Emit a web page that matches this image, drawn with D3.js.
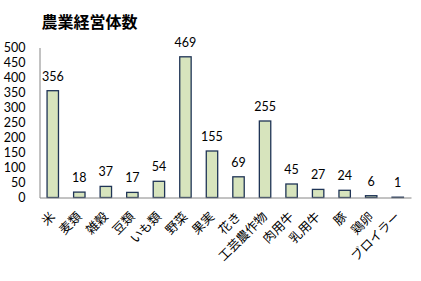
<!DOCTYPE html>
<html>
<head>
<meta charset="utf-8">
<script src="https://cdn.jsdelivr.net/npm/d3@7"></script>
<style>
  html, body { margin: 0; padding: 0; background: #ffffff; }
  svg { display: block; }
</style>
</head>
<body>
<svg id="chart" width="421" height="281"></svg>
<script>
// 品目別の農業経営体数
const categories = ["米", "麦類", "雑穀", "豆類", "いも類", "野菜", "果実", "花き",
  "工芸農作物", "肉用牛", "乳用牛", "豚", "鶏卵", "ブロイラー"];
const counts = [356, 18, 37, 17, 54, 469, 155, 69, 255, 45, 27, 24, 6, 1];
const yTicks = [0, 50, 100, 150, 200, 250, 300, 350, 400, 450, 500];
const title = "農業経営体数";

const svg = d3.select("#chart");
const plot = { left: 39.5, right: 411, top: 47.5, bottom: 197.5 };
const numFont = "Lato, 'Open Sans', sans-serif";
const jpFont = "'Noto Sans CJK JP', sans-serif";

const x = d3.scaleBand().domain(categories).range([plot.left, plot.right]).paddingInner(0.57).paddingOuter(0.285);
const y = d3.scaleLinear().domain([0, 500]).range([plot.bottom, plot.top]);

// title
svg.append("text")
  .attr("x", 89.5).attr("y", 28)
  .attr("text-anchor", "middle")
  .attr("font-family", jpFont)
  .attr("font-weight", "bold")
  .attr("font-size", 16)
  .attr("fill", "#000")
  .text(title);

// y axis
const yAxis = svg.append("g")
  .attr("transform", `translate(${plot.left},0)`)
  .call(d3.axisLeft(y).tickValues(yTicks).tickSize(0).tickPadding(14).tickFormat(d3.format("d")));
yAxis.select(".domain").attr("stroke", "#868686").attr("stroke-width", 1);
yAxis.selectAll("text")
  .attr("font-family", numFont).attr("font-size", 12.5).attr("fill", "#000");

// bars
svg.append("g").selectAll("rect")
  .data(counts)
  .join("rect")
  .attr("x", (d, i) => x(categories[i]))
  .attr("y", d => y(d))
  .attr("width", x.bandwidth())
  .attr("height", d => y(0) - y(d))
  .attr("fill", "#d7e4bd")
  .attr("stroke", "#1f3456")
  .attr("stroke-width", 1.3);

// x axis
const xAxis = svg.append("g")
  .attr("transform", `translate(0,${plot.bottom})`)
  .call(d3.axisBottom(x).tickSize(0).tickFormat(""));
xAxis.select(".domain").attr("stroke", "#868686").attr("stroke-width", 1);

// category labels, rotated
svg.append("g").selectAll("text")
  .data(categories)
  .join("text")
  .attr("transform", d => `translate(${x(d) + x.bandwidth() / 2 + 3},${plot.bottom + 20}) rotate(-45)`)
  .attr("text-anchor", "end")
  .attr("font-family", jpFont)
  .attr("font-size", 12.5)
  .attr("fill", "#000")
  .text(d => d);

// value labels
svg.append("g").selectAll("text")
  .data(counts)
  .join("text")
  .attr("x", (d, i) => x(categories[i]) + x.bandwidth() / 2)
  .attr("y", d => y(d) - 10)
  .attr("text-anchor", "middle")
  .attr("font-family", numFont)
  .attr("font-size", 12.5)
  .attr("fill", "#000")
  .text(d => d);
</script>
</body>
</html>
